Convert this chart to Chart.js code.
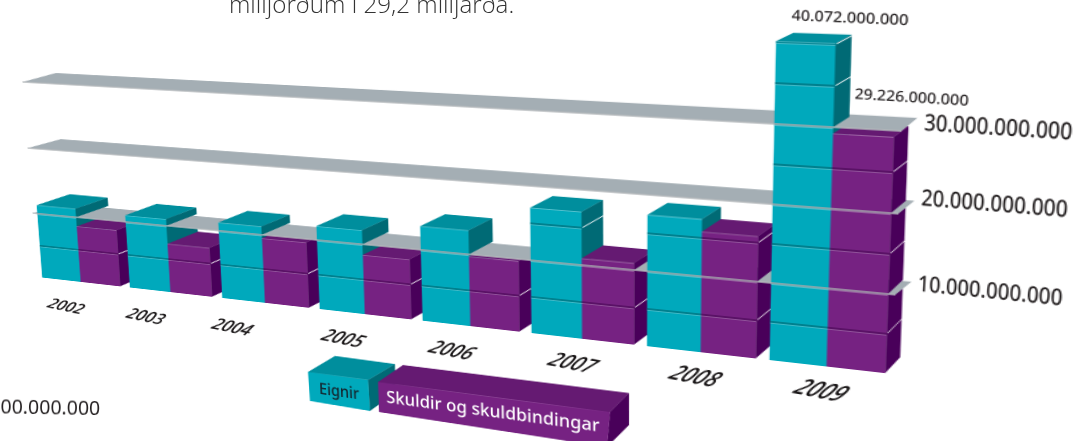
<!DOCTYPE html>
<html lang="fo">
<head>
  <meta charset="UTF-8" />
  <title>Eignir og skuldir</title>
  <script src="https://cdn.jsdelivr.net/npm/chart.js"></script>
  <style>
    html, body { margin: 0; background: #fff; }
    body { position: relative; width: 1088px; height: 441px; overflow: hidden; }
    canvas { position: absolute; left: 0; top: 0; transform-origin: 0 0; }
    .note { position: absolute; color: #333; white-space: nowrap; }
    #headline { left: 229px; top: -13px; font: 300 24.2px "Open Sans", sans-serif; }
    #zero { right: 988px; top: 393px; font: 400 19.5px "Noto Sans", sans-serif; color: #231f20; transform: rotate(1deg); }
  </style>
</head>
<body>
  <canvas id="myChart" width="1088" height="700"></canvas>
  <div class="note" id="headline">milljörðum í 29,2 milljarða.</div>
  <div class="note" id="zero">0.000.000.000</div>

  <script>
    const categories = ["2002", "2003", "2004", "2005", "2006", "2007", "2008", "2009"];
    const eignir = [11.3e9, 11e9, 11.2e9, 12e9, 13.3e9, 17.1e9, 17.4e9, 40.072e9];
    const skuldir = [8.6e9, 7.3e9, 9.5e9, 8.5e9, 9.7e9, 10.9e9, 15.8e9, 29.226e9];
    const gridValues = [10e9, 20e9, 30e9];
    const blockSize = 5e9;

    const TEAL = { front: "#00a9bc", side: "#006a75", top: "#008e9d", gap: "#00808e", edge: "#5cc6d2" };
    const PURPLE = { front: "#762282", side: "#49005a", top: "#651a72", gap: "#5a1266", edge: "#a06aa8" };
    const BAND = "#a4aeb4", BAND_LINE = "#b4b9bc";

    // small placement tweaks for the hand set labels in the reference
    const yearNudge = [-3, -13, -21, -10, -7, 2, 6, 6];
    const tickLift = [12, 16, 8];

    // flat chart plane, the canvas is then warped onto the reference's perspective with a css matrix
    const L = 60, R = 900, BASE = 430, PX_PER_BN = 8, TOP30 = BASE - 30 * PX_PER_BN;
    const quad = [[37.5, 277], [892.5, 374], [901.5, 131], [22.5, 82]];

    function mul(a, b) {
      return a.map(row => [0, 1, 2].map(c => row[0] * b[0][c] + row[1] * b[1][c] + row[2] * b[2][c]));
    }
    function squareToQuad(q) {
      const [[x0, y0], [x1, y1], [x2, y2], [x3, y3]] = q;
      const dx1 = x1 - x2, dx2 = x3 - x2, sx = x0 - x1 + x2 - x3;
      const dy1 = y1 - y2, dy2 = y3 - y2, sy = y0 - y1 + y2 - y3;
      const den = dx1 * dy2 - dx2 * dy1;
      const g = (sx * dy2 - dx2 * sy) / den, h = (dx1 * sy - sx * dy1) / den;
      return [[x1 - x0 + g * x1, x3 - x0 + h * x3, x0], [y1 - y0 + g * y1, y3 - y0 + h * y3, y0], [g, h, 1]];
    }
    const H = mul(squareToQuad(quad), [[1 / (R - L), 0, -L / (R - L)], [0, 1 / (TOP30 - BASE), -BASE / (TOP30 - BASE)], [0, 0, 1]]);
    function invert(m) {
      const [[a, b, c], [d, e, f], [g, h, i]] = m;
      const A = e * i - f * h, B = f * g - d * i, C = d * h - e * g;
      const det = a * A + b * B + c * C;
      return [[A, c * h - b * i, b * f - c * e], [B, a * i - c * g, c * d - a * f], [C, b * g - a * h, a * e - b * d]].map(r => r.map(v => v / det));
    }
    const Hinv = invert(H);
    function apply(m, x, y) {
      const w = m[2][0] * x + m[2][1] * y + m[2][2];
      return [(m[0][0] * x + m[0][1] * y + m[0][2]) / w, (m[1][0] * x + m[1][1] * y + m[1][2]) / w];
    }
    const toScreen = (x, y) => apply(H, x, y);
    const toFlat = (x, y) => apply(Hinv, x, y);

    // depth of a block, measured on screen because it does not follow the front plane
    function blockBack(x, y, value) {
      const s = toScreen(x, y);
      const t = (s[0] - 40) / 850, bn = value / 1e9;
      return toFlat(s[0] + 33 - 18 * t, s[1] - (13 + 3 * t - 0.18 * bn));
    }
    function bandBack(x, y) {
      const s = toScreen(x, y);
      const t = (s[0] - 30) / 870;
      return toFlat(s[0] + 33 - 17 * t, s[1] - 9 - 4 * t);
    }

    function poly(ctx, pts, color) {
      ctx.beginPath();
      pts.forEach((p, i) => i ? ctx.lineTo(p[0], p[1]) : ctx.moveTo(p[0], p[1]));
      ctx.closePath();
      ctx.fillStyle = color;
      ctx.fill();
    }

    // one slice of a bar between two values, so the grey shelves can sit between slices
    function drawSlice(ctx, ys, el, value, lo, hi, c) {
      const top = Math.min(value, hi);
      if (top <= lo) return;
      const x0 = el.x - el.width / 2, x1 = el.x + el.width / 2;
      for (let low = lo; low < top; low += blockSize) {
        const high = Math.min(low + blockSize, top);
        const yl = ys.getPixelForValue(low), yh = ys.getPixelForValue(high) + (high < value ? 1 : 0);
        poly(ctx, [[x1, yl], [x1, yh], blockBack(x1, yh, high), blockBack(x1, yl, low)], c.side);
      }
      const yTop = ys.getPixelForValue(top), yLow = ys.getPixelForValue(lo);
      if (value <= hi) {
        poly(ctx, [[x0, yTop], [x1, yTop], blockBack(x1, yTop, value), blockBack(x0, yTop, value)], c.top);
      }
      ctx.save();
      ctx.beginPath();
      ctx.rect(x0 - 1, yTop, el.width + 2, yLow - yTop);
      ctx.clip();
      el.draw(ctx);
      ctx.restore();
      for (let v = lo; v <= top; v += blockSize) {
        if (v === 0 || v >= value) continue;
        const y = ys.getPixelForValue(v);
        ctx.fillStyle = c.gap;
        ctx.fillRect(x0, y - 1, x1 - x0 + 1, 2.2);
        ctx.fillStyle = c.edge;
        ctx.fillRect(x0, y + 1.2, x1 - x0, 0.7);
      }
      if (value <= hi) {
        ctx.fillStyle = c.edge;
        ctx.fillRect(x0, yTop, x1 - x0, 0.7);
      }
    }

    function text(ctx, str, x, y, font, color, opts) {
      const o = Object.assign({ align: "left", sx: 1, sy: 1, skew: 0, rot: 0 }, opts);
      ctx.save();
      ctx.translate(x, y);
      ctx.rotate(o.rot);
      ctx.transform(o.sx, 0, -o.skew * o.sy, o.sy, 0, 0);
      ctx.font = font;
      ctx.fillStyle = color;
      ctx.textAlign = o.align;
      ctx.textBaseline = "middle";
      ctx.fillText(str, 0, 0);
      ctx.restore();
    }
    const fmt = v => v.toLocaleString("de-DE");

    const blocksPlugin = {
      id: "blocks",
      beforeDatasetsDraw(chart) {
        const ctx = chart.ctx, ys = chart.scales.y, a = chart.chartArea;
        const edges = [0, ...gridValues, ys.max];
        for (let l = 0; l < edges.length - 1; l++) {
          const hasBand = l < gridValues.length;
          const y = hasBand ? ys.getPixelForValue(gridValues[l]) : 0;
          const bl = hasBand ? bandBack(a.left, y) : null, br = hasBand ? bandBack(a.right, y) : null;
          ctx.save();
          if (hasBand) {
            // nothing below a shelf may show above its back edge
            const slope = (br[1] - bl[1]) / (br[0] - bl[0]);
            ctx.beginPath();
            ctx.moveTo(0, bl[1] - bl[0] * slope);
            ctx.lineTo(chart.width, bl[1] + (chart.width - bl[0]) * slope);
            ctx.lineTo(chart.width, chart.height);
            ctx.lineTo(0, chart.height);
            ctx.closePath();
            ctx.clip();
          }
          categories.forEach((_, i) => {
            [0, 1].forEach(d => {
              const el = chart.getDatasetMeta(d).data[i];
              drawSlice(ctx, ys, el, chart.data.datasets[d].data[i], edges[l], edges[l + 1], d ? PURPLE : TEAL);
            });
          });
          ctx.restore();
          if (hasBand) {
            poly(ctx, [[a.left, y], [a.right, y], br, bl], BAND);
          }
        }
        gridValues.forEach(v => {
          ctx.fillStyle = BAND_LINE;
          ctx.fillRect(a.left, ys.getPixelForValue(v) - 0.7, a.right - a.left, 1.4);
        });
        return false;
      },
      afterDraw(chart) {
        const ctx = chart.ctx, xs = chart.scales.x, ys = chart.scales.y, a = chart.chartArea;

        // year labels, hand slanted in the reference
        categories.forEach((c, i) => {
          const s = toScreen(xs.getPixelForValue(i), ys.getPixelForValue(0));
          const p = toFlat(s[0] - 12 + yearNudge[i], s[1] + 25);
          const size = 19 + i * 0.8;
          text(ctx, c, p[0], p[1], `italic 600 ${size}px "Open Sans", sans-serif`, "#1a1718",
            { align: "center", skew: 0.5, rot: 0.09, sx: 1 - i * 0.04 });
        });

        // value axis labels sit to the right of each grey band
        gridValues.forEach((v, i) => {
          const y = ys.getPixelForValue(v);
          text(ctx, fmt(v), a.right + 17, y - tickLift[i], '500 22px "Noto Sans", sans-serif', "#231f20", { sx: 0.685, rot: 0.01 });
        });

        // the two values printed above 2009
        const last = categories.length - 1;
        const teal = chart.getDatasetMeta(0).data[last], purple = chart.getDatasetMeta(1).data[last];
        text(ctx, fmt(eignir[last]), teal.x + teal.width / 2 + 10, teal.y - 24, '500 14px "Noto Sans", sans-serif', "#231f20", { align: "center", sx: 0.9, rot: 0.015 });
        text(ctx, fmt(skuldir[last]), purple.x + purple.width / 2 + 12, purple.y - 38, '500 14px "Noto Sans", sans-serif', "#231f20", { align: "center", sx: 0.86, rot: 0.015 });

        // legend blocks, they follow their own depth
        const flat = pts => pts.map(p => toFlat(p[0], p[1]));
        poly(ctx, flat([[368, 380], [370, 411], [395, 393], [395, 364]]), TEAL.side);
        poly(ctx, flat([[308, 372], [368, 380], [395, 364], [335, 356]]), TEAL.top);
        poly(ctx, flat([[308, 372], [368, 380], [370, 411], [310, 401]]), TEAL.front);
        poly(ctx, flat([[610, 412], [607, 447], [629, 425], [629, 393]]), PURPLE.side);
        poly(ctx, flat([[378, 382], [610, 412], [629, 393], [403, 365]]), PURPLE.top);
        poly(ctx, flat([[378, 382], [610, 412], [607, 447], [379, 412]]), PURPLE.front);
        const e = toFlat(339, 392), k = toFlat(490, 412);
        text(ctx, chart.data.datasets[0].label, e[0], e[1], '500 19px "Noto Sans", sans-serif', "#14242d", { align: "center", sx: 0.8 });
        text(ctx, chart.data.datasets[1].label, k[0], k[1], '500 20px "Noto Sans", sans-serif', "#ffffff", { align: "center", sx: 0.84 });
      }
    };

    new Chart(document.getElementById("myChart"), {
      type: "bar",
      data: {
        labels: categories,
        datasets: [
          { label: "Eignir", data: eignir, backgroundColor: TEAL.front, borderWidth: 0 },
          { label: "Skuldir og skuldbindingar", data: skuldir, backgroundColor: PURPLE.front, borderWidth: 0 }
        ]
      },
      options: {
        responsive: false,
        animation: false,
        devicePixelRatio: 2,
        layout: { padding: { left: L, right: 1088 - R, top: BASE - 45 * PX_PER_BN, bottom: 700 - BASE } },
        datasets: { bar: { categoryPercentage: 0.89, barPercentage: 1 } },
        plugins: { legend: { display: false }, tooltip: { enabled: false } },
        scales: {
          x: { display: false },
          y: { display: false, min: 0, max: 45e9 }
        }
      },
      plugins: [blocksPlugin]
    });

    const m = H.map(r => r.map(v => v / H[2][2]));
    document.getElementById("myChart").style.transform =
      `matrix3d(${m[0][0]},${m[1][0]},0,${m[2][0]}, ${m[0][1]},${m[1][1]},0,${m[2][1]}, 0,0,1,0, ${m[0][2]},${m[1][2]},0,1)`;
  </script>
</body>
</html>
